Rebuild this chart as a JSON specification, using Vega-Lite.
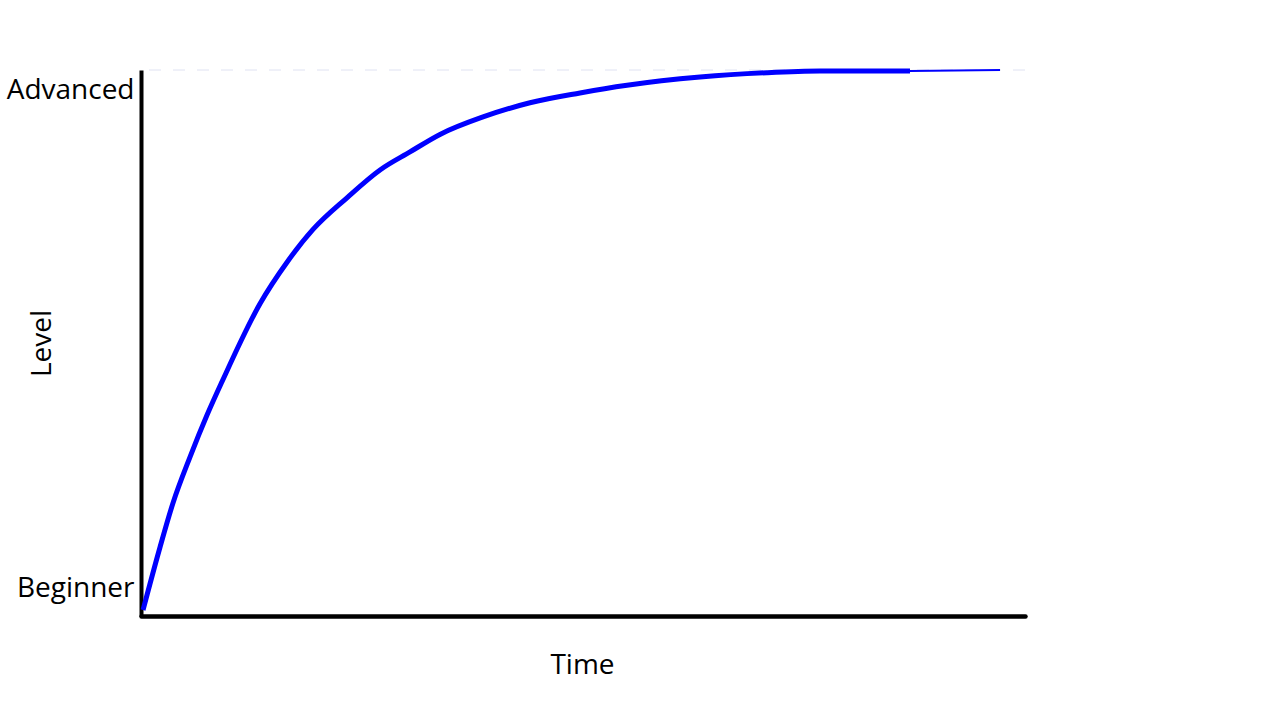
{
  "$schema": "https://vega.github.io/schema/vega-lite/v6.json",
  "width": 884,
  "height": 546,
  "autosize": "none",
  "padding": {"left": 141, "top": 70, "right": 255, "bottom": 104},
  "background": "white",
  "config": {
    "view": {"stroke": null},
    "font": "Open Sans"
  },
  "datasets": {
    "curve": [
      {"time": 0.23, "level": 1.1},
      {"time": 2.15, "level": 12.6},
      {"time": 3.62, "level": 20.7},
      {"time": 5.54, "level": 29.1},
      {"time": 7.47, "level": 36.8},
      {"time": 9.16, "level": 42.9},
      {"time": 13.46, "level": 57.2},
      {"time": 16.52, "level": 64.8},
      {"time": 19.46, "level": 70.8},
      {"time": 23.3, "level": 76.6},
      {"time": 27.04, "level": 81.7},
      {"time": 30.43, "level": 85.0},
      {"time": 33.82, "level": 88.2},
      {"time": 38.69, "level": 91.4},
      {"time": 44.0, "level": 94.0},
      {"time": 49.66, "level": 95.8},
      {"time": 54.98, "level": 97.2},
      {"time": 63.24, "level": 98.7},
      {"time": 70.81, "level": 99.5},
      {"time": 76.81, "level": 99.8},
      {"time": 86.99, "level": 99.8},
      {"time": 97.17, "level": 100}
    ],
    "top": [{"level": 100}]
  },
  "layer": [
    {
      "data": {"name": "top"},
      "mark": {"type": "rule", "color": "#dfe2f2", "strokeWidth": 1, "strokeDash": [12, 12]},
      "encoding": {
        "y": {"field": "level", "type": "quantitative", "scale": {"domain": [0, 100], "nice": false}}
      }
    },
    {
      "data": {"name": "curve"},
      "transform": [{"filter": "datum.time <= 87"}],
      "mark": {"type": "line", "color": "#0000ff", "strokeWidth": 5, "interpolate": "monotone"},
      "encoding": {
        "x": {
          "field": "time", "type": "quantitative",
          "scale": {"domain": [0, 100], "nice": false},
          "axis": {
            "title": "Time", "values": [], "ticks": false, "labels": false, "grid": false,
            "domainColor": "black", "domainWidth": 4.5, "domainCap": "round",
            "titleFontSize": 28, "titleFontWeight": "normal", "titleColor": "black",
            "titleBaseline": "alphabetic", "titleX": 441, "titleY": 57
          }
        },
        "y": {
          "field": "level", "type": "quantitative",
          "scale": {"domain": [0, 100], "nice": false},
          "axis": {
            "title": "Level", "values": [3.48, 94.87],
            "labelExpr": "datum.value > 50 ? 'Advanced' : 'Beginner'",
            "ticks": false, "tickSize": 0, "grid": false,
            "domainColor": "black", "domainWidth": 4,
            "labelFontSize": 28, "labelColor": "black", "labelBaseline": "alphabetic",
            "labelPadding": 7, "labelFlush": false, "labelOverlap": false,
            "titleFontSize": 28, "titleFontWeight": "normal", "titleColor": "black",
            "titleBaseline": "alphabetic", "titleX": -91, "titleY": 273
          }
        }
      }
    },
    {
      "data": {"name": "curve"},
      "transform": [{"filter": "datum.time >= 86"}],
      "mark": {"type": "line", "color": "#0000ff", "strokeWidth": 2},
      "encoding": {
        "x": {"field": "time", "type": "quantitative"},
        "y": {"field": "level", "type": "quantitative"}
      }
    }
  ]
}
